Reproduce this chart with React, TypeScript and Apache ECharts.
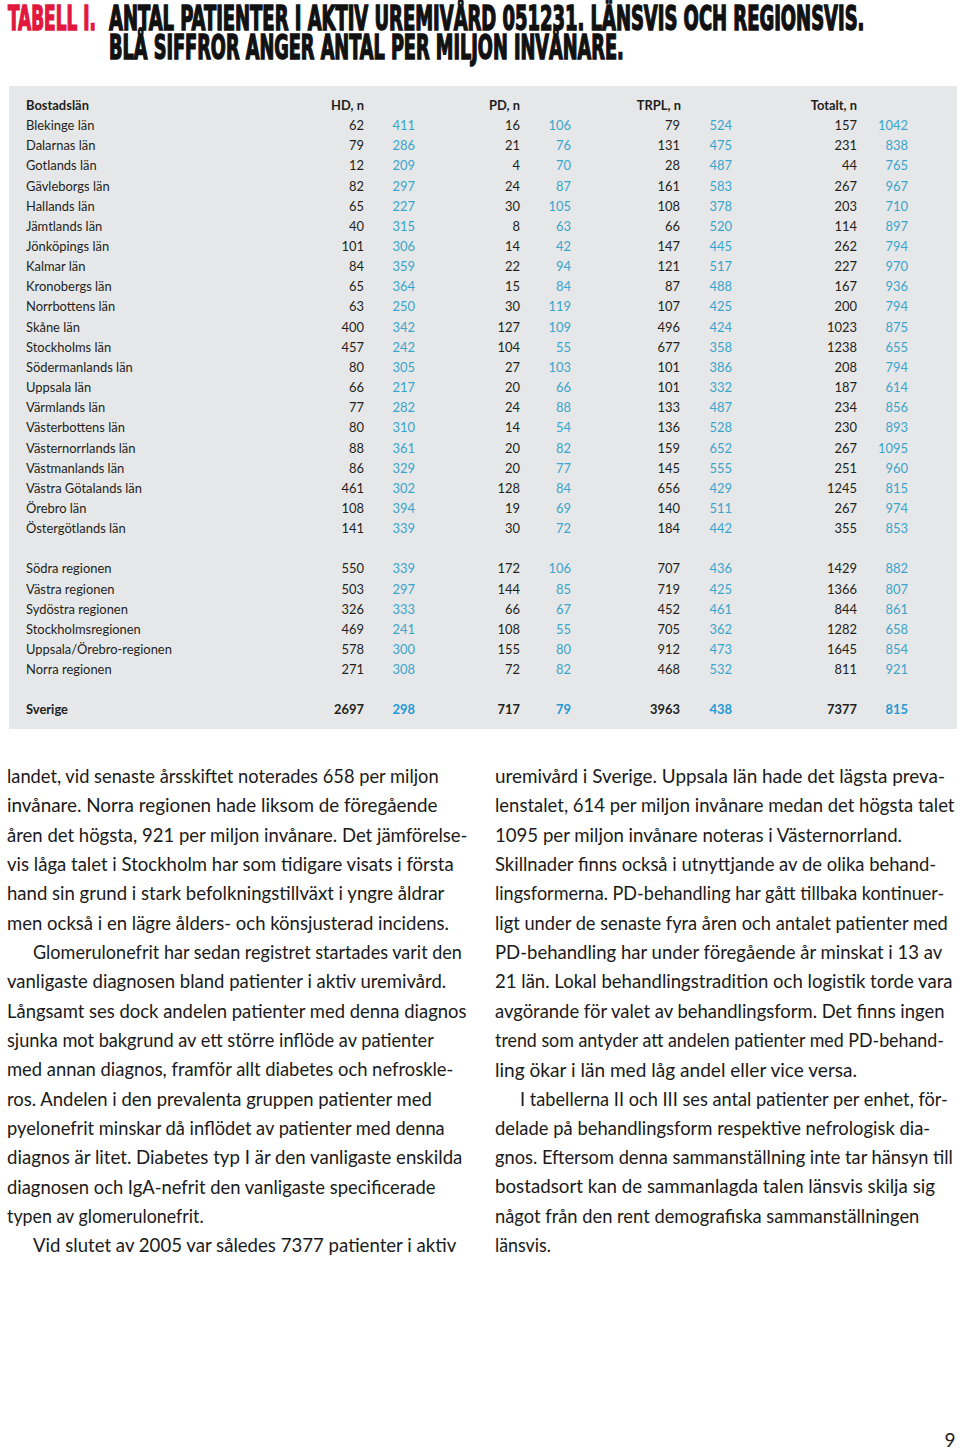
import React, { useEffect, useRef } from "react";
import * as echarts from "echarts";

const TITLE_RED = "TABELL I.";
const TITLE_LINE1 = "ANTAL PATIENTER I AKTIV UREMIVÅRD 051231. LÄNSVIS OCH REGIONSVIS.";
const TITLE_LINE2 = "BLÅ SIFFROR ANGER ANTAL PER MILJON INVÅNARE.";

const headers = ["Bostadslän", "HD, n", "PD, n", "TRPL, n", "Totalt, n"];

const counties = [
  "Blekinge län", "Dalarnas län", "Gotlands län", "Gävleborgs län", "Hallands län",
  "Jämtlands län", "Jönköpings län", "Kalmar län", "Kronobergs län", "Norrbottens län",
  "Skåne län", "Stockholms län", "Södermanlands län", "Uppsala län", "Värmlands län",
  "Västerbottens län", "Västernorrlands län", "Västmanlands län", "Västra Götalands län",
  "Örebro län", "Östergötlands län",
];
const hdN = [62, 79, 12, 82, 65, 40, 101, 84, 65, 63, 400, 457, 80, 66, 77, 80, 88, 86, 461, 108, 141];
const hdPm = [411, 286, 209, 297, 227, 315, 306, 359, 364, 250, 342, 242, 305, 217, 282, 310, 361, 329, 302, 394, 339];
const pdN = [16, 21, 4, 24, 30, 8, 14, 22, 15, 30, 127, 104, 27, 20, 24, 14, 20, 20, 128, 19, 30];
const pdPm = [106, 76, 70, 87, 105, 63, 42, 94, 84, 119, 109, 55, 103, 66, 88, 54, 82, 77, 84, 69, 72];
const trplN = [79, 131, 28, 161, 108, 66, 147, 121, 87, 107, 496, 677, 101, 101, 133, 136, 159, 145, 656, 140, 184];
const trplPm = [524, 475, 487, 583, 378, 520, 445, 517, 488, 425, 424, 358, 386, 332, 487, 528, 652, 555, 429, 511, 442];
const totN = [157, 231, 44, 267, 203, 114, 262, 227, 167, 200, 1023, 1238, 208, 187, 234, 230, 267, 251, 1245, 267, 355];
const totPm = [1042, 838, 765, 967, 710, 897, 794, 970, 936, 794, 875, 655, 794, 614, 856, 893, 1095, 960, 815, 974, 853];

const regions = [
  "Södra regionen", "Västra regionen", "Sydöstra regionen",
  "Stockholmsregionen", "Uppsala/Örebro-regionen", "Norra regionen",
];
const regHdN = [550, 503, 326, 469, 578, 271];
const regHdPm = [339, 297, 333, 241, 300, 308];
const regPdN = [172, 144, 66, 108, 155, 72];
const regPdPm = [106, 85, 67, 55, 80, 82];
const regTrplN = [707, 719, 452, 705, 912, 468];
const regTrplPm = [436, 425, 461, 362, 473, 532];
const regTotN = [1429, 1366, 844, 1282, 1645, 811];
const regTotPm = [882, 807, 861, 658, 854, 921];

const totalLabel = "Sverige";
const totalRow = [2697, 298, 717, 79, 3963, 438, 7377, 815];

const leftColumn = [
  "landet, vid senaste årsskiftet noterades 658 per miljon",
  "invånare. Norra regionen hade liksom de föregående",
  "åren det högsta, 921 per miljon invånare. Det jämförelse-",
  "vis låga talet i Stockholm har som tidigare visats i första",
  "hand sin grund i stark befolkningstillväxt i yngre åldrar",
  "men också i en lägre ålders- och könsjusterad incidens.",
  "\tGlomerulonefrit har sedan registret startades varit den",
  "vanligaste diagnosen bland patienter i aktiv uremivård.",
  "Långsamt ses dock andelen patienter med denna diagnos",
  "sjunka mot bakgrund av ett större inflöde av patienter",
  "med annan diagnos, framför allt diabetes och nefroskle-",
  "ros. Andelen i den prevalenta gruppen patienter med",
  "pyelonefrit minskar då inflödet av patienter med denna",
  "diagnos är litet. Diabetes typ I är den vanligaste enskilda",
  "diagnosen och IgA-nefrit den vanligaste specificerade",
  "typen av glomerulonefrit.",
  "\tVid slutet av 2005 var således 7377 patienter i aktiv",
];
const rightColumn = [
  "uremivård i Sverige. Uppsala län hade det lägsta preva-",
  "lenstalet, 614 per miljon invånare medan det högsta talet",
  "1095 per miljon invånare noteras i Västernorrland.",
  "Skillnader finns också i utnyttjande av de olika behand-",
  "lingsformerna. PD-behandling har gått tillbaka kontinuer-",
  "ligt under de senaste fyra åren och antalet patienter med",
  "PD-behandling har under föregående år minskat i 13 av",
  "21 län. Lokal behandlingstradition och logistik torde vara",
  "avgörande för valet av behandlingsform. Det finns ingen",
  "trend som antyder att andelen patienter med PD-behand-",
  "ling ökar i län med låg andel eller vice versa.",
  "\tI tabellerna II och III ses antal patienter per enhet, för-",
  "delade på behandlingsform respektive nefrologisk dia-",
  "gnos. Eftersom denna sammanställning inte tar hänsyn till",
  "bostadsort kan de sammanlagda talen länsvis skilja sig",
  "något från den rent demografiska sammanställningen",
  "länsvis.",
];
const pageNumber = "9";

// ---- styles / layout ----
// right edge (px) of each typeset body line, for fitting the substitute font
const leftLineEnds = [440, 438, 468, 455, 445, 449, 463, 447, 467, 435, 454, 433, 446, 464, 436, 204, 458];
const rightLineEnds = [945, 955, 903, 937, 945, 949, 944, 953, 946, 945, 859, 949, 930, 953, 935, 920, 551];

const RED = "#e1173e";
const DARK = "#231f20";
const BLUE = "#38a5cb";
const BLUE_BOLD = "#1f9ad3";
const BG = "#e6e7e9";
const TITLE_FONT_FAMILY = "'Liberation Sans Narrow', 'DejaVu Sans Condensed', sans-serif";
const BODY_FAMILY = "Lato, 'Noto Sans', sans-serif";

let measureCtx: CanvasRenderingContext2D | null = null;
function measure(text: string, font: string): number {
  if (!measureCtx) measureCtx = document.createElement("canvas").getContext("2d");
  if (!measureCtx) return text.length * 8;
  measureCtx.font = font;
  return measureCtx.measureText(text).width;
}

function txt(x: number, y: number, text: string, font: string, fill: string, align: string, scaleX = 1, extra: any = {}) {
  return {
    type: "text",
    x,
    y,
    scaleX,
    silent: true,
    style: {
      text,
      font,
      fill,
      align,
      verticalAlign: "middle",
      textAlign: align,
      textVerticalAlign: "middle",
      ...extra,
    },
  };
}

function buildElements() {
  const els: any[] = [];

  // Title
  const titleFont = `bold 33px ${TITLE_FONT_FAMILY}`;
  const sRed = 88 / measure(TITLE_RED, titleFont);
  const s1 = 756 / measure(TITLE_LINE1, titleFont);
  const s2 = 515 / measure(TITLE_LINE2, titleFont);
  const strokeRed = { stroke: RED, lineWidth: 1.5 };
  const strokeDark = { stroke: "#111", lineWidth: 1.5 };
  els.push(txt(8, 18.5, TITLE_RED, titleFont, RED, "left", sRed, strokeRed));
  els.push(txt(109, 18.5, TITLE_LINE1, titleFont, "#111", "left", s1, strokeDark));
  els.push(txt(109, 47.5, TITLE_LINE2, titleFont, "#111", "left", s2, strokeDark));

  // Table background
  els.push({
    type: "rect",
    silent: true,
    shape: { x: 9, y: 86, width: 948, height: 643 },
    style: { fill: BG },
  });

  const tFont = `13.5px ${BODY_FAMILY}`;
  const tBold = `bold 13.5px ${BODY_FAMILY}`;
  const tScale = 146 / measure("Uppsala/Örebro-regionen", tFont);
  const row0 = 125;
  const pitch = 20.15;
  const nameX = 26;
  const nRight = [364, 520, 680, 857];
  const pmRight = [415, 571, 732, 908];
  const rowY = (i: number) => row0 + i * pitch;

  // headers
  els.push(txt(nameX, rowY(-1), headers[0], tBold, DARK, "left", tScale));
  for (let c = 0; c < 4; c++) {
    els.push(txt(nRight[c] + (c === 2 ? 1 : 0), rowY(-1), headers[c + 1], tBold, DARK, "right", tScale));
  }

  const addRow = (ri: number, name: string, vals: number[], bold: boolean) => {
    const f = bold ? tBold : tFont;
    els.push(txt(nameX, rowY(ri), name, f, DARK, "left", tScale));
    for (let c = 0; c < 4; c++) {
      els.push(txt(nRight[c], rowY(ri), String(vals[c * 2]), f, DARK, "right", tScale));
      els.push(txt(pmRight[c], rowY(ri), String(vals[c * 2 + 1]), f, bold ? BLUE_BOLD : BLUE, "right", tScale));
    }
  };

  counties.forEach((name, i) => {
    addRow(i, name, [hdN[i], hdPm[i], pdN[i], pdPm[i], trplN[i], trplPm[i], totN[i], totPm[i]], false);
  });
  regions.forEach((name, i) => {
    addRow(22 + i, name, [regHdN[i], regHdPm[i], regPdN[i], regPdPm[i], regTrplN[i], regTrplPm[i], regTotN[i], regTotPm[i]], false);
  });
  addRow(29, totalLabel, totalRow, true);

  // Body text
  const bFont = `18.5px ${BODY_FAMILY}`;
  const bodyY0 = 776;
  const bodyPitch = 29.32;
  const addColumn = (lines: string[], ends: number[], x: number, indent: number) => {
    lines.forEach((line, i) => {
      const ind = line.startsWith("\t");
      const t = ind ? line.slice(1) : line;
      const x0 = ind ? x + indent : x;
      let s = (ends[i] - x0) / measure(t, bFont);
      s = Math.max(0.84, Math.min(1.08, s));
      els.push(txt(x0, bodyY0 + i * bodyPitch, t, bFont, "#1a1a1a", "left", s));
    });
  };
  addColumn(leftColumn, leftLineEnds, 7, 26);
  addColumn(rightColumn, rightLineEnds, 495, 25);

  // Page number
  els.push(txt(950, 1439, pageNumber, `19px ${BODY_FAMILY}`, "#222", "center"));

  return els;
}

export default function App() {
  const ref = useRef<HTMLDivElement>(null);
  useEffect(() => {
    document.body.style.margin = "0";
    if (!ref.current) return;
    const chart = echarts.init(ref.current, null, { renderer: "svg" });
    chart.setOption({
      animation: false,
      backgroundColor: "#ffffff",
      graphic: { elements: buildElements() },
    });
    return () => chart.dispose();
  }, []);
  return <div ref={ref} style={{ width: 960, height: 1452 }} />;
}
